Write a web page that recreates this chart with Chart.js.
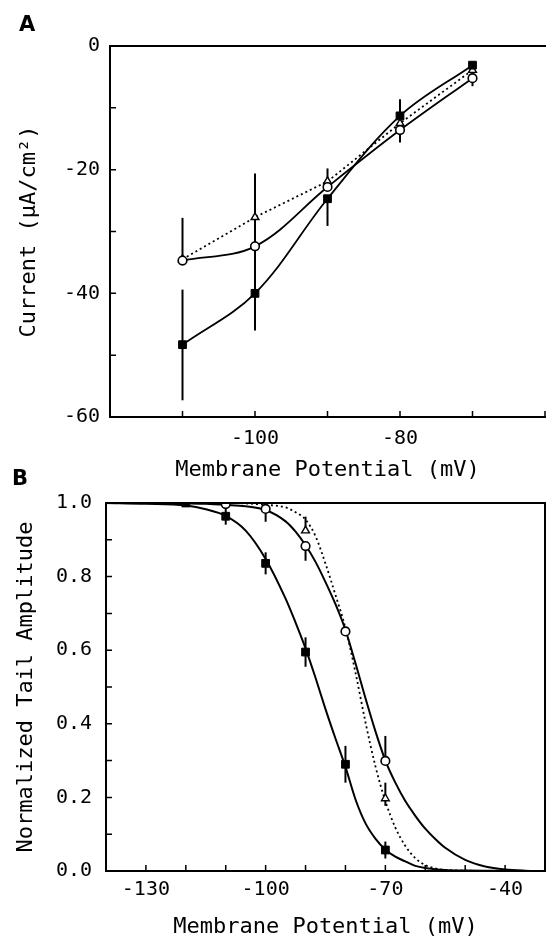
<!DOCTYPE html>
<html>
<head>
<meta charset="utf-8">
<script src="https://cdn.jsdelivr.net/npm/chart.js@4.4.0/dist/chart.umd.min.js"></script>
<style>
html, body { margin: 0; padding: 0; background: #fff; overflow: hidden; }
body { width: 546px; height: 940px; position: relative; }
#chartA { position: absolute; left: 0; top: 0; width: 546px; height: 490px; }
#chartB { position: absolute; left: 0; top: 490px; width: 546px; height: 450px; }
.tag { position: absolute; font: bold 21px "DejaVu Sans"; line-height: 1; color: #000; }
</style>
</head>
<body>
<canvas id="chartA" width="546" height="490"></canvas>
<canvas id="chartB" width="546" height="450"></canvas>
<div class="tag" style="left:19px;top:14px">A</div>
<div class="tag" style="left:12px;top:468px">B</div>
<script>
// panel A: current vs membrane potential
var aVolt = [-110, -100, -90, -80, -70];
var aSquare = [-48.3, -40.0, -24.7, -11.3, -3.1];
var aSquareErrUp = [8.9, 5.8, 0, 2.7, 0];
var aSquareErrDown = [9.0, 6.0, 4.4, 0, 0];
var aCircle = [-34.7, -32.4, -22.8, -13.6, -5.2];
var aCircleErrUp = [6.9, 0, 0, 0, 0];
var aCircleErrDown = [0, 0, 0, 2.0, 1.3];
var aTriangle = [-34.5, -27.7, -21.9, -12.5, -3.9];
var aTriangleErrUp = [0, 7.1, 2.1, 0, 0];
var aTriangleErrDown = [0, 7.1, 0, 0, 0];
var aXLabels = [-100, -80];
var aYLabels = [0, -20, -40, -60];

// panel B: normalized tail amplitude
var bSquareVolt = [-120, -110, -100, -90, -80, -70];
var bSquare = [1.0, 0.964, 0.836, 0.595, 0.290, 0.057];
var bSquareErr = [0, 0.023, 0.03, 0.04, 0.05, 0.023];
var bCircleVolt = [-110, -100, -90, -80, -70];
var bCircle = [0.997, 0.984, 0.883, 0.651, 0.299];
var bCircleErrUp = [0, 0, 0, 0, 0.068];
var bCircleErrDown = [0, 0.035, 0.04, 0, 0];
var bTriangleVolt = [-90, -70];
var bTriangle = [0.925, 0.197];
var bTriangleErrUp = [0.038, 0.043];
var bTriangleErrDown = [0, 0.02];
var bFitVolt = [-140, -130, -120, -115, -110, -105, -100, -95, -92.5, -90, -87.5, -85, -82.5, -80, -77.5, -75, -72.5, -70, -67.5, -65, -62.5, -60, -57.5, -55, -50, -45, -40, -35, -30];
var bFitSquare = [1.0, 0.998, 0.993, 0.983, 0.965, 0.925, 0.848, 0.74, 0.675, 0.605, 0.525, 0.44, 0.36, 0.283, 0.195, 0.13, 0.088, 0.058, 0.039, 0.026, 0.014, 0.008, 0.005, 0.003, 0.0015, 0.0008, 0.0004, 0.0002, 0.0001];
var bFitCircle = [1.0, 1.0, 0.999, 0.998, 0.995, 0.991, 0.981, 0.95, 0.922, 0.885, 0.84, 0.785, 0.725, 0.655, 0.565, 0.47, 0.38, 0.30, 0.24, 0.19, 0.15, 0.115, 0.087, 0.063, 0.03, 0.012, 0.004, 0.001, 0];
var bFitTriangle = [1.0, 1.0, 1.0, 1.0, 1.0, 0.999, 0.995, 0.988, 0.975, 0.955, 0.91, 0.835, 0.75, 0.66, 0.54, 0.405, 0.285, 0.19, 0.118, 0.068, 0.035, 0.016, 0.007, 0.003, 0.001, 0, 0, 0, 0];
var bXLabels = [-130, -100, -70, -40];

var tickFont = { family: 'DejaVu Sans Mono', size: 20 };
var titleFont = { family: 'DejaVu Sans Mono', size: 22 };

function pts(xs, ys) {
    return xs.map(function (x, i) { return { x: x, y: ys[i] }; });
}

// keep the axis boxes at fixed sizes and stop them asking for extra padding
function fixBox(w, h) {
    return function (s) {
        if (w) s.width = w;
        if (h) s.height = h;
        s.paddingLeft = 0;
        s.paddingRight = 0;
        s.paddingTop = 0;
        s.paddingBottom = 0;
    };
}

// error bars under the markers, frame and inward ticks on top
var framePlugin = {
    id: 'frame',
    beforeDatasetsDraw: function (chart, args, opts) {
        var ctx = chart.ctx, xs = chart.scales.x, ys = chart.scales.y;
        ctx.save();
        ctx.strokeStyle = '#000';
        ctx.lineWidth = 2;
        (opts.bars || []).forEach(function (b) {
            b.x.forEach(function (xv, i) {
                if (!b.up[i] && !b.down[i]) return;
                var px = xs.getPixelForValue(xv);
                ctx.beginPath();
                ctx.moveTo(px, ys.getPixelForValue(b.y[i] + b.up[i]));
                ctx.lineTo(px, ys.getPixelForValue(b.y[i] - b.down[i]));
                ctx.stroke();
            });
        });
        ctx.restore();
    },
    afterDraw: function (chart, args, opts) {
        var ctx = chart.ctx, a = chart.chartArea, xs = chart.scales.x, ys = chart.scales.y;
        ctx.save();
        ctx.strokeStyle = '#000';
        ctx.lineWidth = 2;
        ctx.lineCap = 'square';
        ctx.beginPath();
        ctx.moveTo(a.right, a.top);
        ctx.lineTo(a.left, a.top);
        ctx.lineTo(a.left, a.bottom);
        ctx.lineTo(a.right, a.bottom);
        if (opts.right) ctx.lineTo(a.right, a.top);
        ctx.stroke();
        ctx.lineWidth = 1.5;
        ctx.lineCap = 'butt';
        ctx.beginPath();
        xs.ticks.forEach(function (t) {
            var p = xs.getPixelForValue(t.value);
            ctx.moveTo(p, a.bottom);
            ctx.lineTo(p, a.bottom - opts.tick);
        });
        ys.ticks.forEach(function (t) {
            var p = ys.getPixelForValue(t.value);
            ctx.moveTo(a.left, p);
            ctx.lineTo(a.left + opts.tick, p);
        });
        ctx.stroke();
        ctx.restore();
    }
};

var chartA = new Chart(document.getElementById('chartA'), {
    type: 'scatter',
    data: {
        datasets: [{
            data: pts(aVolt, aCircle),
            showLine: true,
            tension: 0.35,
            borderColor: '#000',
            borderWidth: 1.8,
            pointStyle: 'circle',
            pointRadius: 4.3,
            pointBackgroundColor: '#fff',
            pointBorderColor: '#000',
            pointBorderWidth: 1.6
        }, {
            data: pts(aVolt, aSquare),
            showLine: true,
            tension: 0.35,
            borderColor: '#000',
            borderWidth: 1.8,
            pointStyle: 'rect',
            pointRadius: 5.5,
            pointBackgroundColor: '#000',
            pointBorderColor: '#000',
            pointBorderWidth: 1
        }, {
            data: pts(aVolt, aTriangle),
            showLine: true,
            tension: 0,
            borderColor: '#000',
            borderWidth: 1.8,
            borderDash: [2, 3],
            pointStyle: 'triangle',
            pointRadius: 4.5,
            pointBackgroundColor: '#fff',
            pointBorderColor: '#000',
            pointBorderWidth: 1.4
        }]
    },
    options: {
        responsive: false,
        animation: false,
        layout: { autoPadding: false, padding: { left: 0, top: 46, right: 1, bottom: 0 } },
        plugins: {
            legend: { display: false },
            tooltip: { enabled: false },
            frame: {
                tick: 6,
                right: false,
                bars: [
                    { x: aVolt, y: aSquare, up: aSquareErrUp, down: aSquareErrDown },
                    { x: aVolt, y: aCircle, up: aCircleErrUp, down: aCircleErrDown },
                    { x: aVolt, y: aTriangle, up: aTriangleErrUp, down: aTriangleErrDown }
                ]
            }
        },
        scales: {
            x: {
                type: 'linear',
                min: -120,
                max: -60,
                grid: { display: false, drawTicks: false },
                border: { display: false },
                ticks: {
                    stepSize: 10,
                    autoSkip: false,
                    maxRotation: 0,
                    padding: 10,
                    color: '#000',
                    font: tickFont,
                    callback: function (v) { return aXLabels.indexOf(v) >= 0 ? String(v) : ''; }
                },
                title: {
                    display: true,
                    text: 'Membrane Potential (mV)',
                    color: '#000',
                    font: titleFont,
                    padding: { top: 0, bottom: 7 }
                },
                afterFit: fixBox(0, 73)
            },
            y: {
                min: -60,
                max: 0,
                grid: { display: false, drawTicks: false },
                border: { display: false },
                ticks: {
                    stepSize: 10,
                    padding: 10,
                    color: '#000',
                    font: tickFont,
                    callback: function (v) { return aYLabels.indexOf(v) >= 0 ? String(v) : ''; }
                },
                title: {
                    display: true,
                    text: 'Current (μA/cm²)',
                    color: '#000',
                    font: titleFont,
                    padding: { top: 16, bottom: 0 }
                },
                afterFit: fixBox(110, 0)
            }
        }
    },
    plugins: [framePlugin]
});

var chartB = new Chart(document.getElementById('chartB'), {
    type: 'scatter',
    data: {
        datasets: [{
            data: pts(bCircleVolt, bCircle),
            showLine: false,
            pointStyle: 'circle',
            pointRadius: 4.3,
            pointBackgroundColor: '#fff',
            pointBorderColor: '#000',
            pointBorderWidth: 1.6
        }, {
            data: pts(bTriangleVolt, bTriangle),
            showLine: false,
            pointStyle: 'triangle',
            pointRadius: 4.5,
            pointBackgroundColor: '#fff',
            pointBorderColor: '#000',
            pointBorderWidth: 1.4
        }, {
            data: pts(bSquareVolt, bSquare),
            showLine: false,
            pointStyle: 'rect',
            pointRadius: 5.5,
            pointBackgroundColor: '#000',
            pointBorderColor: '#000',
            pointBorderWidth: 1
        }, {
            data: pts(bFitVolt, bFitSquare),
            showLine: true,
            cubicInterpolationMode: 'monotone',
            borderColor: '#000',
            borderWidth: 2,
            pointRadius: 0
        }, {
            data: pts(bFitVolt, bFitCircle),
            showLine: true,
            cubicInterpolationMode: 'monotone',
            borderColor: '#000',
            borderWidth: 2,
            pointRadius: 0
        }, {
            data: pts(bFitVolt, bFitTriangle),
            showLine: true,
            cubicInterpolationMode: 'monotone',
            borderColor: '#000',
            borderWidth: 1.8,
            borderDash: [2, 3],
            pointRadius: 0
        }]
    },
    options: {
        responsive: false,
        animation: false,
        layout: { autoPadding: false, padding: { left: 0, top: 13, right: 1, bottom: 0 } },
        plugins: {
            legend: { display: false },
            tooltip: { enabled: false },
            frame: {
                tick: 6,
                right: true,
                bars: [
                    { x: bSquareVolt, y: bSquare, up: bSquareErr, down: bSquareErr },
                    { x: bCircleVolt, y: bCircle, up: bCircleErrUp, down: bCircleErrDown },
                    { x: bTriangleVolt, y: bTriangle, up: bTriangleErrUp, down: bTriangleErrDown }
                ]
            }
        },
        scales: {
            x: {
                type: 'linear',
                min: -140,
                max: -30,
                grid: { display: false, drawTicks: false },
                border: { display: false },
                ticks: {
                    stepSize: 10,
                    autoSkip: false,
                    maxRotation: 0,
                    padding: 7,
                    color: '#000',
                    font: tickFont,
                    callback: function (v) { return bXLabels.indexOf(v) >= 0 ? String(v) : ''; }
                },
                title: {
                    display: true,
                    text: 'Membrane Potential (mV)',
                    color: '#000',
                    font: titleFont,
                    padding: { top: 0, bottom: 0 }
                },
                afterFit: fixBox(0, 69)
            },
            y: {
                min: 0,
                max: 1,
                grid: { display: false, drawTicks: false },
                border: { display: false },
                ticks: {
                    stepSize: 0.1,
                    padding: 14,
                    color: '#000',
                    font: tickFont,
                    callback: function (v) {
                        var k = Math.round(v * 10);
                        return k % 2 === 0 ? (k / 10).toFixed(1) : '';
                    }
                },
                title: {
                    display: true,
                    text: 'Normalized Tail Amplitude',
                    color: '#000',
                    font: titleFont,
                    padding: { top: 13, bottom: 0 }
                },
                afterFit: fixBox(106, 0)
            }
        }
    },
    plugins: [framePlugin]
});
</script>
</body>
</html>
